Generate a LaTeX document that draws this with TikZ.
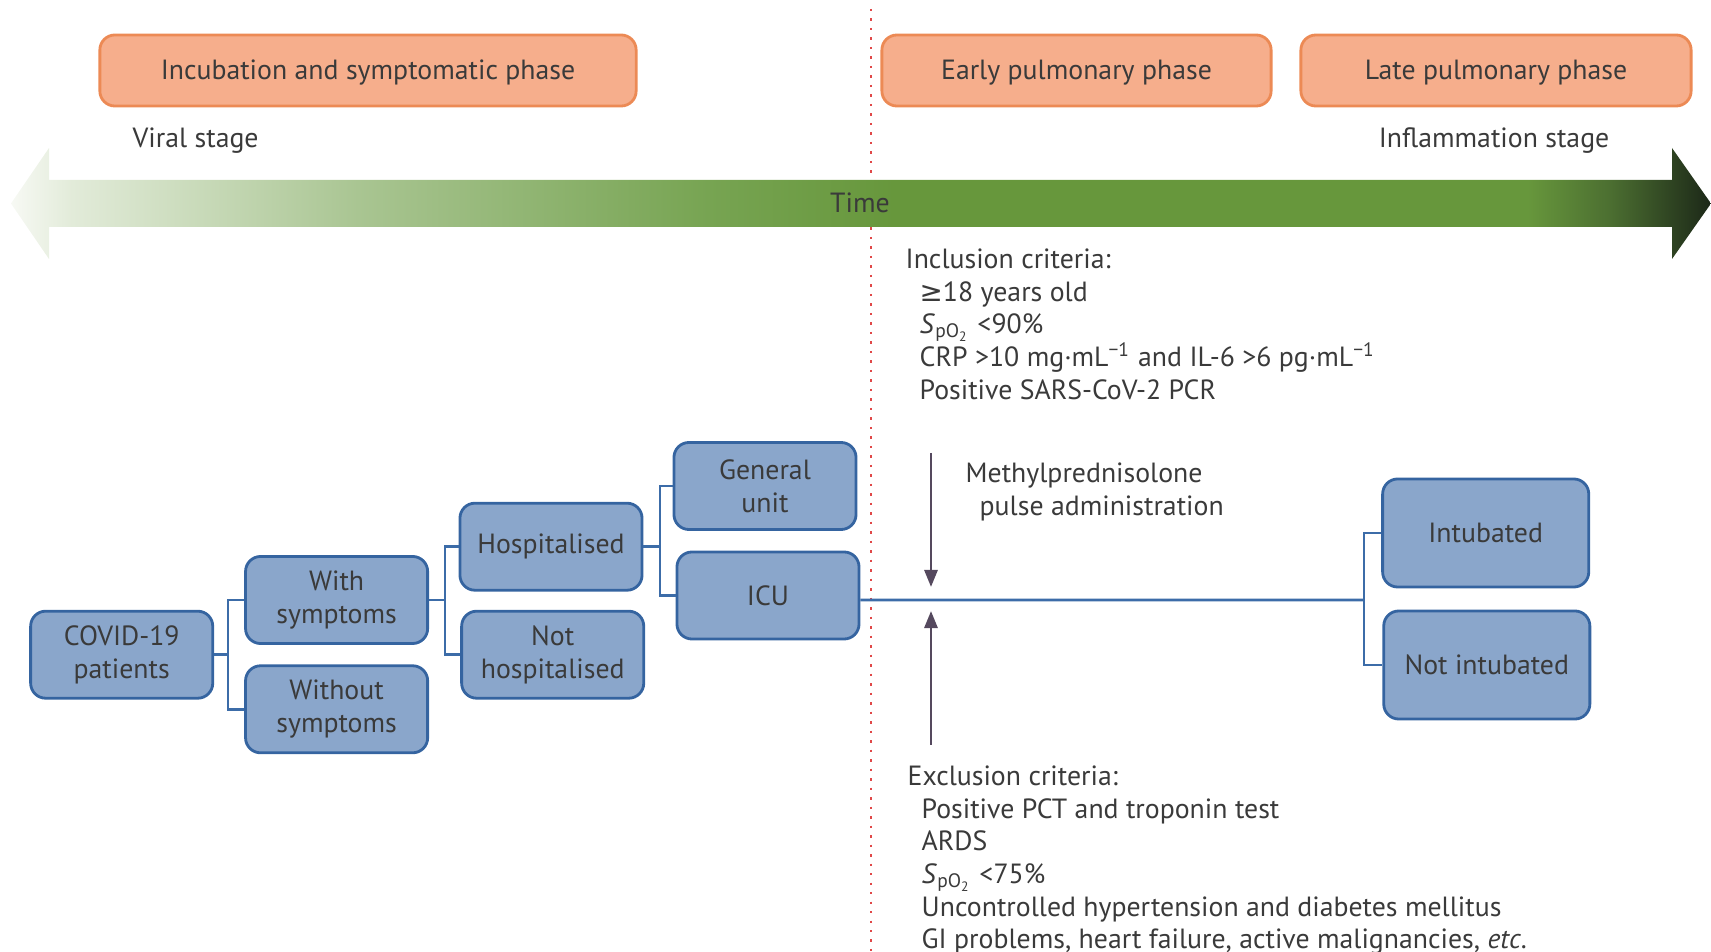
\documentclass[tikz,border=0pt]{standalone}
\usepackage{fontspec}
\setmainfont{PT Sans}
\newfontfamily\symfont{DejaVu Sans}
\usetikzlibrary{arrows.meta}
\definecolor{phasefill}{HTML}{F6AE8C}
\definecolor{phasedraw}{HTML}{EC8A55}
\definecolor{boxfill}{HTML}{8AA6CB}
\definecolor{boxdraw}{HTML}{3564A0}
\definecolor{linkblue}{HTML}{3C6CA8}
\definecolor{inkgray}{HTML}{3A3A3A}
\definecolor{dotred}{HTML}{E04848}
\definecolor{dosegray}{HTML}{55495E}
\definecolor{tA}{HTML}{F7F9F4}
\definecolor{tB}{HTML}{E2EBD9}
\definecolor{tC}{HTML}{A9C592}
\definecolor{tD}{HTML}{77A452}
\definecolor{tE}{HTML}{67973C}
\definecolor{tF}{HTML}{4C6F31}
\definecolor{tG}{HTML}{1C2818}
\pgfdeclarehorizontalshading{timeshade}{100bp}{color(0bp)=(tA); color(25bp)=(tA); color(26.8bp)=(tB); color(35.2bp)=(tC); color(45.5bp)=(tD); color(51bp)=(tE); color(69.6bp)=(tE); color(72bp)=(tF); color(75bp)=(tG); color(100bp)=(tG)}
\newcommand{\diagfont}{\fontsize{7.9}{9.3}\selectfont\setlength{\lineskiplimit}{-6pt}}
\tikzset{
  txt/.style={font=\diagfont, text=inkgray},
  phasebox/.style={txt, rectangle, rounded corners=0.15cm, fill=phasefill, draw=phasedraw, line width=0.8pt, minimum height=0.71cm, text height=5.8pt, text depth=0.75pt},
  groupbox/.style={txt, rectangle, rounded corners=0.15cm, fill=boxfill, draw=boxdraw, line width=0.8pt, minimum width=1.82cm, minimum height=0.87cm, align=center, inner sep=0pt},
  outcomebox/.style={groupbox, minimum width=2.06cm, minimum height=1.08cm},
  stagelabel/.style={txt, inner sep=0pt},
  critlist/.style={txt, align=left, inner sep=0pt, anchor=north west},
  link/.style={draw=linkblue, line width=0.8pt},
  dose/.style={draw=dosegray, line width=0.8pt, -{Triangle[length=0.17cm, width=0.13cm]}},
  divider/.style={draw=dotred, line width=0.7pt, dotted},
}
\newcommand{\spo}{\textit{S}\textsubscript{pO\textsubscript{2}}}

\begin{document}
\begin{tikzpicture}[x=0.01cm, y=-0.01cm]
\useasboundingbox (0,0) rectangle (1711,952);
\draw[divider] (871,9) -- (871,952);
\shade[shading=timeshade] (11,203.5) -- (49,148) -- (49,180) -- (1672,180) -- (1672,148) -- (1711,203.5) -- (1672,259) -- (1672,227) -- (49,227) -- (49,259) -- cycle;
\node[stagelabel] (time) at (860,202.5) {Time};
\node[phasebox, minimum width=5.36cm] (incub) at (368,70.5) {Incubation and symptomatic phase};
\node[phasebox, minimum width=3.89cm] (early) at (1076.5,70.5) {Early pulmonary phase};
\node[phasebox, minimum width=3.90cm] (late) at (1496,70.5) {Late pulmonary phase};
\node[stagelabel, anchor=west] (viral) at (132,140.5) {Viral stage};
\node[stagelabel, anchor=east] (inflam) at (1610,140.5) {Inflammation stage};
\node[critlist] (incl) at (905,248) {Inclusion criteria:\\
\hspace*{0.14cm}{\symfont ≥}18 years old\\
\hspace*{0.14cm}\spo{} <90\%\\
\hspace*{0.14cm}CRP >10 mg·mL\textsuperscript{−1} and IL-6 >6 pg·mL\textsuperscript{−1}\\
\hspace*{0.14cm}Positive SARS-CoV-2 PCR};
\node[critlist] (excl) at (907,765) {Exclusion criteria:\\
\hspace*{0.14cm}Positive PCT and troponin test\\
\hspace*{0.14cm}ARDS\\
\hspace*{0.14cm}\spo{} <75\%\\
\hspace*{0.14cm}Uncontrolled hypertension and diabetes mellitus\\
\hspace*{0.14cm}GI problems, heart failure, active malignancies, \textit{etc}.};
\node[critlist] (mp) at (965,462) {Methylprednisolone\\\hspace*{0.14cm}pulse administration};
\node[groupbox] (covid) at (121.7,654.7) {COVID-19\\patients};
\node[groupbox] (with) at (336.6,600) {With\\symptoms};
\node[groupbox] (without) at (336.6,709.3) {Without\\symptoms};
\node[groupbox] (hosp) at (551,546.7) {Hospitalised};
\node[groupbox] (nothosp) at (552.7,654.7) {Not\\hospitalised};
\node[groupbox] (general) at (765,486) {General\\unit};
\node[groupbox] (icu) at (768,595.5) {ICU};
\node[outcomebox] (intub) at (1485.7,533) {Intubated};
\node[outcomebox] (notintub) at (1486.8,665) {Not intubated};
\coordinate (fork1) at (228,654.7);
\coordinate (fork2) at (445,600);
\coordinate (fork3) at (660,546.7);
\coordinate (fork4) at (1364,600);
\coordinate (dosetop) at (931,453);
\coordinate (dosebot) at (931,745);
\draw[link] (covid.east) -- (fork1);
\draw[link] (with.west) -| (fork1) |- (without.west);
\draw[link] (with.east) -- (fork2);
\draw[link] (hosp.west) -| (fork2) |- (nothosp.west);
\draw[link] (hosp.east) -- (fork3);
\draw[link] (general.west) -| (fork3) |- (icu.west);
\draw[link] ([yshift=-0.045cm]icu.east) -- (fork4);
\draw[link] (intub.west) -| (fork4) |- (notintub.west);
\draw[dose] (dosetop) -- (931,587);
\draw[dose] (dosebot) -- (931,611);
\end{tikzpicture}
\end{document}
